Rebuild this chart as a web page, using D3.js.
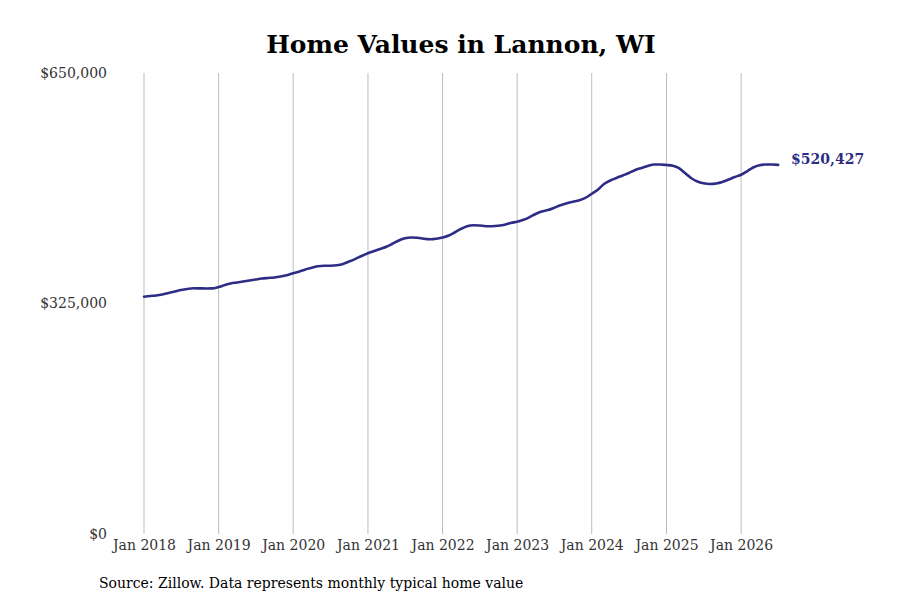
<!DOCTYPE html>
<html>
<head>
<meta charset="utf-8">
<script src="https://cdn.jsdelivr.net/npm/d3@7"></script>
<style>
  body { margin: 0; background: #fff; }
  text { font-family: "DejaVu Serif", serif; }
</style>
</head>
<body>
<svg class="chart"></svg>
<script>
// monthly typical home value, Jan 2018 .. Jul 2026
var startMonth = "2018-01";
var homeValues = [
    334600, 335600, 336300, 337700, 339800, 341900, 344000, 345500, 346400, 346300, 346200, 346300,
    348300, 351100, 353200, 354600, 356000, 357400, 358800, 360200, 361000, 361700, 363100, 364900,
    367600, 370100, 373000, 375300, 377500, 378200, 378300, 378900, 380700, 384200, 388000, 392000,
    395800, 399000, 401900, 405000, 409200, 413800, 417000, 418100, 417600, 416200, 415500, 416200,
    418100, 420900, 425100, 430100, 434000, 435400, 435000, 434000, 433900, 434600, 436000, 438500,
    440300, 443000, 446500, 451200, 454700, 456800, 459900, 463500, 466400, 468500, 470500, 474000,
    479700, 485700, 493500, 498400, 502000, 505500, 509000, 513200, 516100, 518900, 521000, 521000,
    520300, 519200, 516100, 509000, 502000, 497000, 494500, 493500, 494200, 496300, 499800, 503400,
    506500, 511800, 516800, 520000, 520900, 521000, 520427
];
var yTicks = [0, 325000, 650000];
var xTickYears = [2018, 2019, 2020, 2021, 2022, 2023, 2024, 2025, 2026];
var title = "Home Values in Lannon, WI";
var source = "Source: Zillow. Data represents monthly typical home value";

var lineColor = "#2e2d86";
var margin = {top: 73, right: 121, bottom: 66, left: 144},
    width = 900 - margin.left - margin.right,
    height = 600 - margin.top - margin.bottom;

var svg = d3.select(".chart")
    .attr("width", 900)
    .attr("height", 600);

var g = svg.append("g")
    .attr("transform", "translate(" + margin.left + "," + margin.top + ")");

var parse = d3.timeParse("%Y-%m");
var start = parse(startMonth);
var data = homeValues.map(function(v, i) {
    return {date: d3.timeMonth.offset(start, i), value: v};
});

// Jan 2018 at 144px, one year ~74.6px
var x = d3.scaleTime()
    .domain([start, new Date(2026, 6, 1)])
    .range([0, 74.6 * 8.5]);

var y = d3.scaleLinear()
    .domain([0, 650000])
    .range([height, 0]);

// vertical grid at each January
g.append("g")
    .selectAll("line")
    .data(xTickYears)
    .enter().append("line")
    .attr("x1", function(d) { return x(new Date(d, 0, 1)); })
    .attr("x2", function(d) { return x(new Date(d, 0, 1)); })
    .attr("y1", 0)
    .attr("y2", height)
    .attr("stroke", "#bdbdbd")
    .attr("stroke-width", 1);

// x axis labels
var xAxis = d3.axisBottom(x)
    .tickValues(xTickYears.map(function(d) { return new Date(d, 0, 1); }))
    .tickFormat(d3.timeFormat("Jan %Y"))
    .tickSize(0)
    .tickPadding(6);

var xg = g.append("g")
    .attr("transform", "translate(0," + height + ")")
    .call(xAxis);
xg.select(".domain").remove();
xg.selectAll("text")
    .attr("font-family", "DejaVu Serif")
    .attr("font-size", 14)
    .attr("fill", "#333");

// y axis labels
var yAxis = d3.axisLeft(y)
    .tickValues(yTicks)
    .tickFormat(function(d) { return "$" + d3.format(",")(d); })
    .tickSize(0)
    .tickPadding(37);

var yg = g.append("g").call(yAxis);
yg.select(".domain").remove();
yg.selectAll("text")
    .attr("font-family", "DejaVu Serif")
    .attr("font-size", 14)
    .attr("fill", "#333");

// the line
var line = d3.line()
    .x(function(d) { return x(d.date); })
    .y(function(d) { return y(d.value); })
    .curve(d3.curveMonotoneX);

g.append("path")
    .datum(data)
    .attr("fill", "none")
    .attr("stroke", lineColor)
    .attr("stroke-width", 2.6)
    .attr("stroke-linejoin", "round")
    .attr("stroke-linecap", "round")
    .attr("d", line);

// end label
var last = data[data.length - 1];
g.append("text")
    .attr("x", x(last.date) + 13)
    .attr("y", y(last.value) - 1)
    .attr("font-size", 14)
    .attr("font-weight", "bold")
    .attr("fill", lineColor)
    .text("$" + d3.format(",")(last.value));

// title
svg.append("text")
    .attr("x", 461)
    .attr("y", 53)
    .attr("text-anchor", "middle")
    .attr("font-size", 25)
    .attr("font-weight", "bold")
    .attr("fill", "#000")
    .text(title);

// source
svg.append("text")
    .attr("x", 99)
    .attr("y", 588)
    .attr("font-size", 14)
    .attr("fill", "#000")
    .text(source);
</script>
</body>
</html>
